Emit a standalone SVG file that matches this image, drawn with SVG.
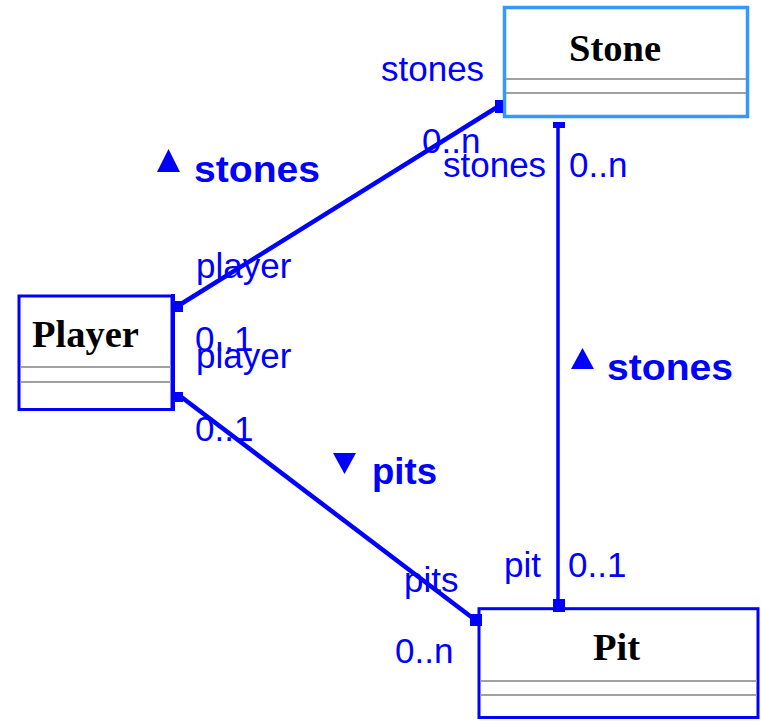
<svg xmlns="http://www.w3.org/2000/svg" width="761" height="721" viewBox="0 0 761 721">
<style>
.box{fill:#fff;stroke:#0000ff;stroke-width:3}
.sel{stroke:#3399ff;stroke-width:3.5}
.div{stroke:#a0a0a0;stroke-width:2}
.title{font-family:"Liberation Serif","Times New Roman",serif;font-weight:bold;font-size:38.5px;fill:#000}
.lbl{font-family:"Liberation Sans",Arial,sans-serif;font-size:35px;fill:#0000ff}
.assoc{font-family:"Liberation Sans",Arial,sans-serif;font-size:37px;font-weight:bold;fill:#0000ff}
.conn{stroke:#0000ff;fill:none}
.end{fill:#0000ff}
</style>
<rect width="761" height="721" fill="#fff"/>
<g id="node-stone">
<rect class="box sel" x="504.5" y="7.5" width="243" height="109"/>
<line class="div" x1="506" y1="79" x2="746" y2="79"/>
<line class="div" x1="506" y1="93" x2="746" y2="93"/>
<text class="title" x="569" y="61">Stone</text>
</g>
<g id="node-player">
<rect class="box" x="19" y="296" width="153" height="113.5"/>
<line x1="173" y1="294" x2="173" y2="411" stroke="#0000ff" stroke-width="4"/>
<line class="div" x1="20.5" y1="367" x2="171" y2="367"/>
<line class="div" x1="20.5" y1="382" x2="171" y2="382"/>
<text class="title" x="32" y="347">Player</text>
</g>
<g id="node-pit">
<rect class="box" x="479" y="608.7" width="279" height="108.8"/>
<line class="div" x1="480.5" y1="681" x2="757" y2="681"/>
<line class="div" x1="480.5" y1="695" x2="757" y2="695"/>
<text class="title" x="593" y="660">Pit</text>
</g>
<g id="connectors">
<line class="conn" x1="181" y1="304" x2="499" y2="106" stroke-width="4.5"/>
<rect class="end" x="173" y="301" width="10" height="11"/>
<rect class="end" x="495" y="100" width="8" height="13"/>
<line class="conn" x1="558" y1="124" x2="558" y2="604" stroke-width="3.5"/>
<rect class="end" x="553" y="122" width="12" height="6"/>
<rect class="end" x="553" y="599" width="12" height="13"/>
<line class="conn" x1="180" y1="396" x2="474" y2="619" stroke-width="4.5"/>
<rect class="end" x="173" y="392" width="10" height="10"/>
<rect class="end" x="470" y="614" width="12" height="12"/>
</g>
<g id="labels">
<text class="lbl" x="381" y="81">stones</text>
<text class="lbl" x="422" y="153">0..n</text>
<text class="lbl" x="443" y="177">stones</text>
<text class="lbl" x="569" y="177">0..n</text>
<text class="lbl" x="196" y="278">player</text>
<text class="lbl" x="195" y="351">0..1</text>
<text class="lbl" x="196" y="368">player</text>
<text class="lbl" x="195" y="441">0..1</text>
<text class="lbl" x="404" y="592">pits</text>
<text class="lbl" x="395" y="663">0..n</text>
<text class="lbl" x="504" y="577">pit</text>
<text class="lbl" x="568" y="577">0..1</text>
</g>
<g id="assoc-names">
<polygon class="end" points="157,172 180,172 168.5,149"/>
<text class="assoc" x="194" y="182" textLength="126" lengthAdjust="spacingAndGlyphs">stones</text>
<polygon class="end" points="571,369 594,369 582.5,348"/>
<text class="assoc" x="607" y="380" textLength="126" lengthAdjust="spacingAndGlyphs">stones</text>
<polygon class="end" points="333,453 356,453 344.5,474"/>
<text class="assoc" x="372" y="484" textLength="65" lengthAdjust="spacingAndGlyphs">pits</text>
</g>
</svg>
